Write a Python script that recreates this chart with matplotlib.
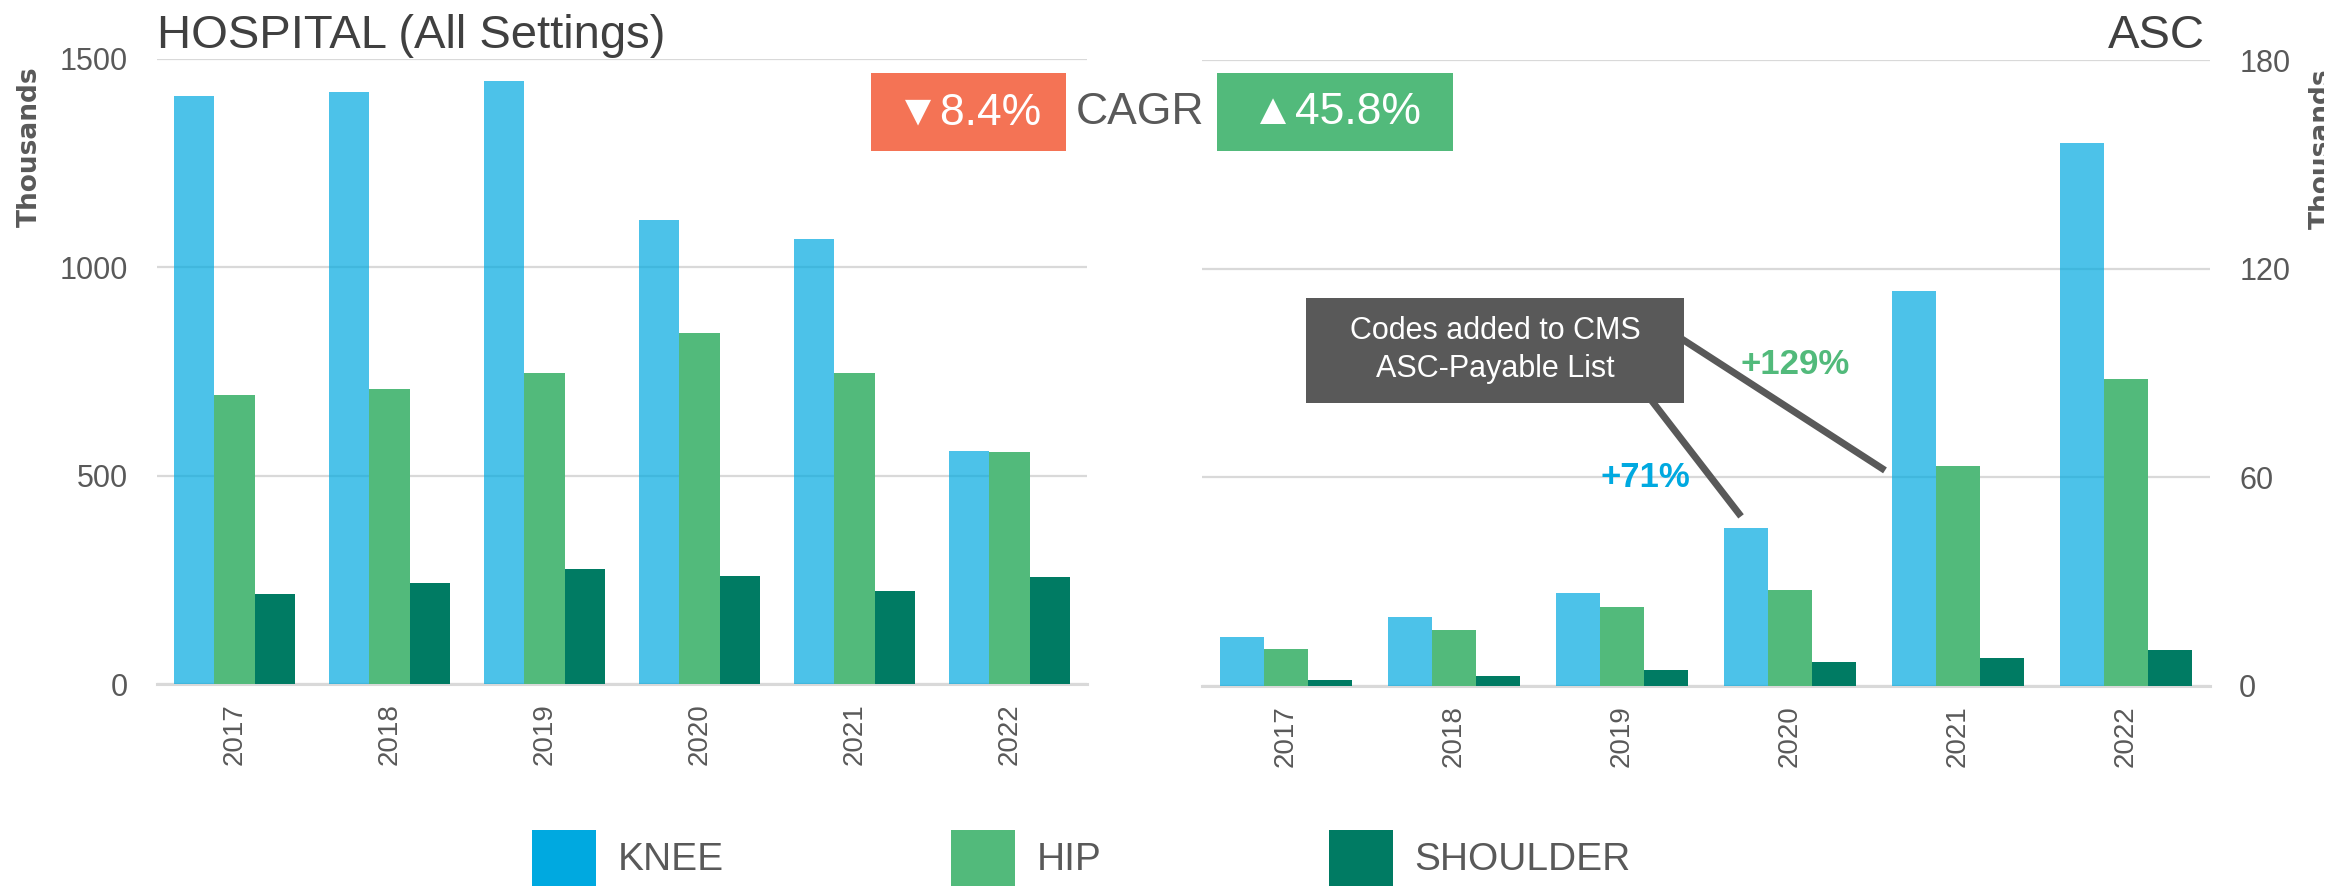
import matplotlib
matplotlib.use("Agg")
import matplotlib.pyplot as plt
from matplotlib.patches import Rectangle, Patch
from matplotlib.transforms import Bbox, TransformedBbox

# values (thousands of procedures)
years = ["2017", "2018", "2019", "2020", "2021", "2022"]
hosp_knee = [1412, 1422, 1448, 1114, 1069, 559]
hosp_hip = [693, 709, 747, 842, 746, 558]
hosp_shoulder = [216, 243, 276, 259, 224, 256]
asc_knee = [13.9, 19.6, 26.6, 45.4, 113.7, 156.1]
asc_hip = [10.5, 15.9, 22.6, 27.5, 63.3, 88.4]
asc_shoulder = [1.6, 2.7, 4.4, 6.8, 7.8, 10.2]
series_names = ["KNEE", "HIP", "SHOULDER"]
series_colors = ["#00A9E0", "#52BA7B", "#007B63"]
hosp_ticks = [0, 500, 1000, 1500]
asc_ticks = [0, 60, 120, 180]
cagr_hosp = "\u25BC8.4%"
cagr_asc = "\u25B245.8%"

GRAY = "#595959"
GRID = "#D9D9D9"
W, H = 2349, 886

plt.rcParams["font.family"] = ["Liberation Sans", "DejaVu Sans"]


def fx(px):
    return px / W


def fy(py):
    return 1 - py / H


def draw_panel(ax, series, ticks, right=False):
    width = 0.262
    xs = list(range(len(years)))
    for k, (vals, color) in enumerate(zip(series, series_colors)):
        alpha = 0.7 if k == 0 else 1.0
        ax.bar([x + (k - 1) * width for x in xs], vals, width=width,
               color=color, alpha=alpha, linewidth=0, zorder=3)
    ax.set_xlim(-0.5, len(years) - 0.5)
    ax.set_ylim(ticks[0], ticks[-1])
    ax.set_yticks(ticks)
    ax.set_xticks(xs)
    ax.set_xticklabels(years, rotation=90, fontsize=20, color=GRAY)
    ax.set_axisbelow(True)
    ax.grid(axis="y", color=GRID, linewidth=1.6)
    for s in ["top", "left", "right"]:
        ax.spines[s].set_visible(False)
    ax.spines["bottom"].set_color(GRID)
    ax.spines["bottom"].set_linewidth(2.2)
    ax.tick_params(axis="x", length=0, pad=14)
    ax.tick_params(axis="y", length=0, pad=21, labelsize=22, labelcolor=GRAY)
    if right:
        ax.yaxis.tick_right()


fig = plt.figure(figsize=(W / 100, H / 100), dpi=100)
ax1 = fig.add_axes([fx(157), fy(684), fx(1087 - 157), (684 - 59) / H])
ax2 = fig.add_axes([fx(1202), fy(685.5), fx(2210 - 1202), (685.5 - 60.5) / H])

draw_panel(ax1, [hosp_knee, hosp_hip, hosp_shoulder], hosp_ticks)
draw_panel(ax2, [asc_knee, asc_hip, asc_shoulder], asc_ticks, right=True)

# titles
fig.text(fx(157), fy(48), "HOSPITAL (All Settings)", fontsize=34, color="#404040",
         ha="left", va="baseline")
fig.text(fx(2205), fy(48), "ASC", fontsize=34, color="#404040", ha="right", va="baseline")

# axis unit labels (the right one is cut off in the source)
fig.text(fx(30), fy(147), "Thousands", rotation=90, fontsize=19, fontweight="bold",
         family="DejaVu Sans", color=GRAY, ha="center", va="center")
rlab = fig.text(fx(2322), fy(149), "Thousands", rotation=90, fontsize=19, fontweight="bold",
                family="DejaVu Sans", color=GRAY, ha="center", va="center")
rlab.set_clip_box(TransformedBbox(Bbox([[fx(2290), 0], [fx(2324), 1]]), fig.transFigure))
rlab.set_clip_on(True)

# CAGR boxes
fig.patches.append(Rectangle((fx(871), fy(151)), fx(1066 - 871), (151 - 73) / H,
                             transform=fig.transFigure, facecolor="#F47355", edgecolor="none"))
fig.patches.append(Rectangle((fx(1217), fy(151)), fx(1453 - 1217), (151 - 73) / H,
                             transform=fig.transFigure, facecolor="#52BA7B", edgecolor="none"))
fig.text(fx(969), fy(113), cagr_hosp, fontsize=32, color="white", ha="center", va="center")
fig.text(fx(1140), fy(113), "CAGR", fontsize=32, color=GRAY, ha="center", va="center")
fig.text(fx(1336), fy(113), cagr_asc, fontsize=32, color="white", ha="center", va="center")

# callout on the ASC panel
ax2.plot([2.185, 2.696], [81.5, 49.5], color=GRAY, linewidth=5, clip_on=False, zorder=5)
ax2.plot([2.369, 3.548], [99.4, 62.5], color=GRAY, linewidth=5, clip_on=False, zorder=5)
ax2.add_patch(Rectangle((0.119, 81.5), 2.25, 30, facecolor=GRAY, edgecolor="none",
                        zorder=6, clip_on=False))
ax2.text(1.244, 96.5, "Codes added to CMS\nASC-Payable List", fontsize=22, color="white",
         ha="center", va="center", linespacing=1.35, zorder=7)
ax2.text(3.03, 92.5, "+129%", fontsize=25, fontweight="bold", color="#52BA7B",
         ha="center", va="center", zorder=7)
ax2.text(2.14, 60.0, "+71%", fontsize=25, fontweight="bold", color="#00A9E0",
         ha="center", va="center", zorder=7)

# legend
handles = [Patch(facecolor=c, edgecolor="none", label=n) for n, c in zip(series_names, series_colors)]
leg = fig.legend(handles=handles, loc="center", bbox_to_anchor=(fx(1081.5), fy(858)), ncol=3,
                 frameon=False, fontsize=28, handlelength=1.65, handleheight=1.85,
                 handletextpad=0.55, columnspacing=5.85, borderaxespad=0, borderpad=0)
for t in leg.get_texts():
    t.set_color(GRAY)

fig.savefig("out.png", dpi=100)
